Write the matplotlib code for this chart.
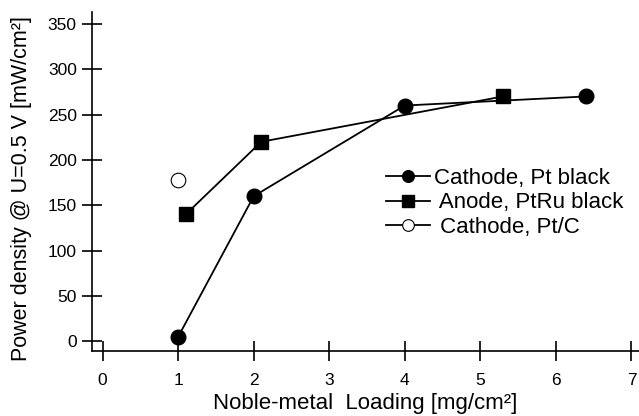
import matplotlib.pyplot as plt

plt.rcParams['font.family'] = ['Liberation Sans', 'DejaVu Sans']

# Cathode with Pt black
cathode_pt_x = [1.0, 2.0, 4.0, 6.4]
cathode_pt_y = [5, 160, 260, 270]

# Anode with PtRu black
anode_ptru_x = [1.1, 2.1, 5.3]
anode_ptru_y = [140, 220, 270]

# Cathode with Pt/C
cathode_ptc_x = [1.0]
cathode_ptc_y = [178]

X_TICKS = [0, 1, 2, 3, 4, 5, 6, 7]
Y_TICKS = [0, 50, 100, 150, 200, 250, 300, 350]

fig = plt.figure(figsize=(6.39, 4.16), dpi=100)
ax = fig.add_axes([0.144, 0.156, 0.856, 0.815])

ax.plot(cathode_pt_x, cathode_pt_y, color='black', lw=1.3, marker='o',
        markersize=10.5, label='Cathode, Pt black')
ax.plot(anode_ptru_x, anode_ptru_y, color='black', lw=1.3, marker='s',
        markersize=10.5, label=' Anode, PtRu black')
ax.plot(cathode_ptc_x, cathode_ptc_y, color='black', lw=1.3, marker='o',
        markersize=10.5, markerfacecolor='white', markeredgewidth=0.8,
        label=' Cathode, Pt/C')

ax.set_xlim(-0.14, 7.1)
ax.set_ylim(-10.7, 363)
ax.set_xticks(X_TICKS)
ax.set_yticks(Y_TICKS)

for side in ('top', 'right'):
    ax.spines[side].set_visible(False)
for side in ('left', 'bottom'):
    ax.spines[side].set_linewidth(1.2)

ax.tick_params(direction='inout', length=14, width=1.2, labelsize=12.5)
ax.tick_params(axis='x', pad=9)
ax.tick_params(axis='y', pad=4)

ax.set_xlabel('Noble-metal  Loading [mg/cm²]', fontsize=16)
ax.set_ylabel('Power density @ U=0.5 V [mW/cm²]', fontsize=15.5)
ax.xaxis.set_label_coords(0.5, -0.125)
ax.yaxis.set_label_coords(-0.11, 0.48)

ax.legend(loc='upper left', bbox_to_anchor=(0.5375, 0.54), frameon=False,
          fontsize=16, handlelength=2.0, handletextpad=0.15,
          labelspacing=0.15, borderaxespad=0, borderpad=0, markerscale=0.8)

fig.savefig('out.png', dpi=100)
